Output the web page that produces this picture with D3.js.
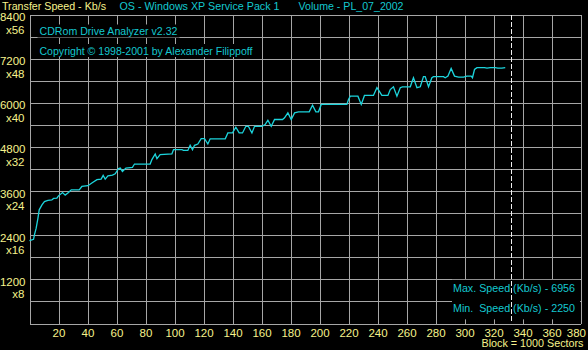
<!DOCTYPE html>
<html><head><meta charset="utf-8">
<script src="https://cdn.jsdelivr.net/npm/d3@7"></script>
<style>html,body{margin:0;padding:0;background:#000;overflow:hidden}</style>
</head><body><svg id="c" width="588" height="350"></svg>
<script>
// ---- data ----
const blocks = [0,2.8,3.4,4.6,5.8,6.7,8.6,10.3,12.7,15.4,16.6,18.9,20,22.8,24.6,26.9,28.8,34.3,36.1,40.3,43,46.5,49.4,50.8,52.2,54.1,57.2,59.1,61.4,62.6,64.1,66.5,71,72.4,83.2,84.4,86.7,87.9,90.1,98.2,99.3,105.1,106.2,109.2,110.8,112.4,113.8,116.1,118.4,120.7,123,124.6,135,136.8,140,142.3,144.6,146.9,149.2,151,153.4,155.2,160.3,162.5,164.4,166.7,169,174.5,175.9,178.2,180.5,182.8,185.5,192.9,195.2,197.5,199.3,201.2,218.9,220,221.2,226.5,228.8,231,237.2,239.6,241.2,243,247.2,248.8,251,253.4,255.7,257.2,262.6,264.8,267.2,269.5,271.7,272.9,275.2,277.5,278.6,285.5,286.7,288.6,290.8,293.1,295.9,299.3,301.7,304.6,305.5,306.9,308.6,313.8,315.5,317.8,321.2,323,325.8,328.1];
const speeds = [2250,2290,2410,2590,2860,3090,3225,3315,3345,3360,3400,3410,3470,3560,3490,3560,3635,3635,3725,3745,3820,3910,3925,4025,3925,4015,4035,4070,4210,4225,4135,4225,4245,4335,4335,4455,4610,4480,4590,4610,4725,4725,4705,4705,4845,4725,4845,4880,5025,5025,4880,5020,5020,5180,5180,5335,5180,5180,5360,5360,5180,5360,5360,5410,5525,5360,5545,5545,5590,5725,5545,5725,5755,5755,5935,5755,5755,5955,5955,6090,6180,6180,5955,6200,6200,6410,6315,6200,6200,6360,6435,6180,6410,6435,6435,6680,6410,6435,6710,6710,6435,6680,6710,6710,6680,6725,6935,6725,6700,6700,6725,6725,6680,6905,6956,6956,6940,6956,6956,6940,6940,6956];
const yLabelValues = [1200,2400,3600,4800,6000,7200,8400];
const yLabelMultipliers = ["x8","x16","x24","x32","x40","x48","x56"];
const xLabelValues = [20,40,60,80,100,120,140,160,180,200,220,240,260,280,300,320,340,360,380];
const yGridValues = d3.range(0, 8401, 600);
const xGridValues = d3.range(0, 381, 20);
const maxSpeed = 6956, minSpeed = 2250;
const markerBlock = 332;
const headerTexts = ["Transfer Speed - Kb/s", "OS - Windows XP Service Pack 1", "Volume - PL_07_2002"];
const titleTexts = ["CDRom Drive Analyzer v2.32", "Copyright \u00A9 1998-2001 by Alexander Filippoff"];
const footerText = "Block = 1000 Sectors";

// ---- style ----
const YELLOW = "#f6f28c", CYAN = "#14c8d0", CURVE = "#1cd4dc", GRID = "#a6a6a6";
const FONT = "'Liberation Sans', Arial, sans-serif";

const svg = d3.select("#c");
svg.append("rect").attr("width",588).attr("height",350).attr("fill","#000");

const x = d3.scaleLinear().domain([0,380]).range([29.5,580.5]);
const y = d3.scaleLinear().domain([0,8400]).range([323.5,14.5]);

// grid
const gx = svg.append("g").attr("transform",`translate(0,${y(0)})`)
  .call(d3.axisBottom(x).tickValues(xGridValues).tickSize(-(y(0)-y(8400))).tickFormat(""));
const gy = svg.append("g").attr("transform",`translate(${x(0)},0)`)
  .call(d3.axisLeft(y).tickValues(yGridValues).tickSize(-(x(380)-x(0))).tickFormat(""));
[gx,gy].forEach(g=>{
  g.select(".domain").remove();
  g.selectAll("line").attr("stroke",GRID).attr("stroke-width",1).attr("shape-rendering","crispEdges");
});

// curve
const pts = blocks.map((b,i)=>[b,speeds[i]]);
svg.append("path").datum(pts)
  .attr("d", d3.line().x(d=>x(d[0])).y(d=>y(d[1])))
  .attr("fill","none").attr("stroke",CURVE).attr("stroke-width",1.3);

function txt(s, xx, yy, color, len, size){
  const t = svg.append("text").attr("x",xx).attr("y",yy).attr("fill",color)
    .attr("font-family",FONT).attr("font-size",(size||11)+"px")
    .style("white-space","pre").text(s);
  if(len) t.attr("textLength",len).attr("lengthAdjust","spacingAndGlyphs");
  return t;
}
function bg(t, pad){
  const b = t.node().getBBox();
  svg.insert("rect", function(){return t.node();})
    .attr("x",b.x-pad).attr("y",b.y-0.5).attr("width",b.width+2*pad).attr("height",b.height+1)
    .attr("fill","#000");
}

// title texts with black background
const t1 = txt(titleTexts[0], 39.5, 35, CYAN, 138, 11.5); bg(t1,2);
const t2 = txt(titleTexts[1], 39.5, 54.5, CYAN, 213, 11.5); bg(t2,2);

// max/min texts with background
const maxLabel = `Max. Speed (Kb/s) - ${maxSpeed}`;
const minLabel = `Min.  Speed (Kb/s) - ${minSpeed}`;
svg.append("rect").attr("x",452).attr("y",y(1200)+0.5).attr("width",x(380)-452-0.5).attr("height",39.5).attr("fill","#000");

// dashed marker
svg.append("line").attr("x1",Math.round(x(markerBlock))+0.5).attr("x2",Math.round(x(markerBlock))+0.5)
  .attr("y1",y(8400)+0.5).attr("y2",y(0)-0.5)
  .attr("stroke","#eeeeee").attr("stroke-width",1).attr("stroke-dasharray","5,2")
  .attr("shape-rendering","crispEdges");

txt(maxLabel, 453, 291.5, CYAN, 122, 11.5);
txt(minLabel, 453, 311.7, CYAN, 122, 11.5);

// header
txt(headerTexts[0], 2, 10, YELLOW, 104, 11.5);
txt(headerTexts[1], 119.5, 10, CYAN, 160, 11.5);
txt(headerTexts[2], 298.5, 10, CYAN, 105, 11.5);

// x labels
const ax = svg.append("g").attr("transform",`translate(0,${y(0)})`)
  .call(d3.axisBottom(x).tickValues(xLabelValues).tickSize(0).tickFormat(d3.format("d")));
ax.select(".domain").remove();
ax.selectAll("text").attr("y",13.2).attr("dy",null).attr("fill",YELLOW)
  .attr("font-family",FONT).attr("font-size","11.5px");
ax.selectAll("text").filter(d=>d===380).attr("text-anchor","end").attr("x",5);

// y labels
const ay = svg.append("g").attr("transform",`translate(${x(0)},0)`)
  .call(d3.axisLeft(y).tickValues(yLabelValues).tickSize(0).tickFormat(d3.format("d")));
ay.select(".domain").remove();
ay.selectAll("text").attr("x",-4).attr("y",6).attr("dy",null).attr("fill",YELLOW)
  .attr("font-family",FONT).attr("font-size","11.5px");
ay.selectAll(".tick").append("text")
  .attr("x",-5).attr("y",18.5).attr("text-anchor","end").attr("fill",YELLOW)
  .attr("font-family",FONT).attr("font-size","11.5px")
  .text(d=>yLabelMultipliers[yLabelValues.indexOf(d)]);

// footer
txt(footerText, 481.5, 347, YELLOW, 102, 11);
</script></body></html>
